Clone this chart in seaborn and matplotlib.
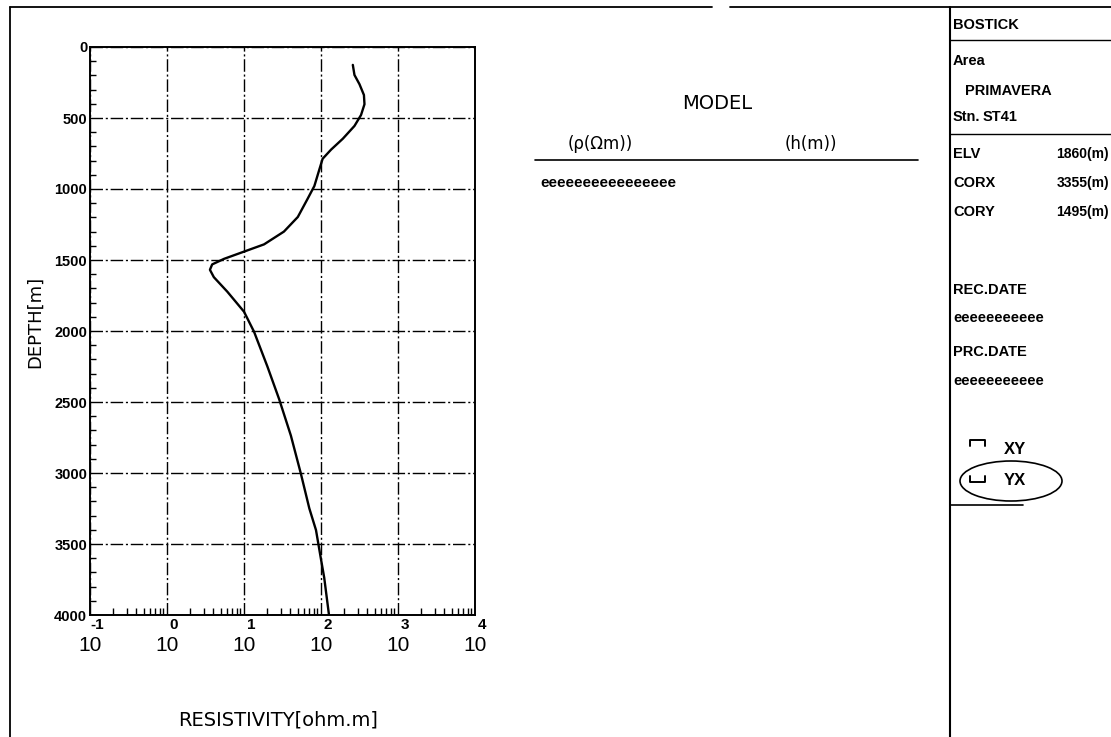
import numpy as np
import pandas as pd
import matplotlib
matplotlib.use("Agg")
import matplotlib.pyplot as plt
import seaborn as sns
from matplotlib.patches import Ellipse
from matplotlib.ticker import FixedLocator, LogLocator, NullFormatter

# ---------------- data ----------------
depth_m = [126, 197, 262, 338, 403, 479, 556, 646, 723, 787, 864, 979, 1069, 1197,
           1300, 1390, 1441, 1492, 1531, 1569, 1621, 1723, 1864, 2005, 2249, 2480,
           2736, 3005, 3249, 3402, 3608, 3736, 4000]
resistivity_ohmm = [259, 272, 316, 361, 367, 331, 272, 192, 135, 105, 95, 82, 67, 50,
                    33, 18.2, 10, 5.5, 3.86, 3.61, 4.06, 6.07, 10, 13.5, 20.1, 28.6,
                    40.6, 54.8, 70.5, 86.1, 100, 110, 127]
depth_ticks = [0, 500, 1000, 1500, 2000, 2500, 3000, 3500, 4000]
res_ticks = [0.1, 1, 10, 100, 1000, 10000]
res_tick_base = ["10", "10", "10", "10", "10", "10"]
res_tick_exp = ["-1", "0", "1", "2", "3", "4"]
info_labels = ["ELV", "CORX", "CORY"]
info_values = ["1860(m)", "3355(m)", "1495(m)"]

sns.set_theme(style="white")
plt.rcParams["font.family"] = ["DejaVu Sans"]
NARROW = ["Liberation Sans", "DejaVu Sans"]

W, H = 1111, 737
fig = plt.figure(figsize=(W / 100, H / 100), dpi=100)
fig.patch.set_facecolor("white")

# background overlay in pixel coordinates
bg = fig.add_axes([0, 0, 1, 1])
bg.set_xlim(0, W)
bg.set_ylim(H, 0)
bg.axis("off")

# main axes
x0, x1, y0, y1 = 90, 475, 47, 615
ax = fig.add_axes([x0 / W, (H - y1) / H, (x1 - x0) / W, (y1 - y0) / H])
df = pd.DataFrame({"res": resistivity_ohmm, "depth": depth_m})
sns.lineplot(data=df, x="res", y="depth", sort=False, estimator=None,
             color="black", lw=1.7, ax=ax, orient="y")
ax.set_xscale("log")
ax.set_xlim(0.1, 10000)
ax.set_ylim(4000, 0)
ax.set_xlabel("")
ax.set_ylabel("")
ax.set_xticks(res_ticks)
ax.set_xticklabels(res_tick_base, fontsize=15, family=NARROW)
ax.xaxis.set_minor_locator(LogLocator(base=10, subs=np.arange(2, 10)))
ax.xaxis.set_minor_formatter(NullFormatter())
for t, e in zip(res_ticks, res_tick_exp):
    ax.annotate(e, xy=(t, 0), xycoords=("data", "axes fraction"),
                xytext=(7, -10), textcoords="offset pixels", ha="center", va="center",
                fontsize=11, fontweight="bold", family=NARROW, color="black",
                annotation_clip=False)
ax.set_yticks(depth_ticks)
ax.set_yticklabels([str(d) for d in depth_ticks], fontsize=10.5, family=NARROW,
                   fontweight="bold")
ax.yaxis.set_minor_locator(FixedLocator(np.arange(0, 4001, 100)))
ax.tick_params(axis="x", which="major", direction="in", length=0, pad=15, colors="black")
ax.tick_params(axis="x", which="minor", direction="in", length=5, width=1, colors="black",
               bottom=True)
ax.tick_params(axis="y", which="major", direction="in", length=0, pad=2, colors="black")
ax.tick_params(axis="y", which="minor", direction="in", length=4, width=1, colors="black",
               left=True)
ax.grid(True, which="major", color="black", lw=1.0, linestyle=(0, (9, 2, 1.5, 2)))
for s in ax.spines.values():
    s.set_color("black")
    s.set_linewidth(1.4)
    s.set_visible(True)

# axis titles
bg.text(35, 322, "DEPTH[m]", rotation=90, ha="center", va="center", fontsize=13,
        color="black")
bg.text(278, 720, "RESISTIVITY[ohm.m]", ha="center", va="center", fontsize=14,
        color="black")

# outer frame
bg.plot([10, 712], [7, 7], color="black", lw=1.3)
bg.plot([730, W], [7, 7], color="black", lw=1.3)
bg.plot([10, 10], [7, H], color="black", lw=1.3)
bg.plot([950, 950], [7, H], color="black", lw=1.5)

# model block
bg.text(717, 103, "MODEL", ha="center", va="center", fontsize=14, color="black")
bg.text(568, 144, "(\u03c1(\u03a9m))", ha="left", va="center", fontsize=12, color="black")
bg.text(785, 144, "(h(m))", ha="left", va="center", fontsize=12, color="black")
bg.plot([535, 918], [160, 160], color="black", lw=1.2)
bg.text(540, 183, "eeeeeeeeeeeeeeee", ha="left", va="center", fontsize=11,
        fontweight="bold", family=NARROW, color="black")

# right info panel
bg.plot([950, W], [40, 40], color="black", lw=1.0)
bg.plot([950, W], [134, 134], color="black", lw=1.0)
kw = dict(family=NARROW, fontweight="bold", color="black", va="center")
bg.text(953, 25, "BOSTICK", fontsize=10.5, ha="left", **kw)
bg.text(953, 61, "Area", fontsize=10.5, ha="left", **kw)
bg.text(965, 91, "PRIMAVERA", fontsize=10.5, ha="left", **kw)
bg.text(953, 117, "Stn.", fontsize=10.5, ha="left", **kw)
bg.text(983, 117, "ST41", fontsize=10.5, ha="left", **kw)
for i, (lab, val) in enumerate(zip(info_labels, info_values)):
    yy = 154 + i * 29
    bg.text(953, yy, lab, fontsize=10.5, ha="left", **kw)
    bg.text(1109, yy, val, fontsize=10, ha="right", **kw)
bg.text(953, 290, "REC.DATE", fontsize=10.5, ha="left", **kw)
bg.text(953, 318, "eeeeeeeeeee", fontsize=10.5, ha="left", **kw)
bg.text(953, 352, "PRC.DATE", fontsize=10.5, ha="left", **kw)
bg.text(953, 381, "eeeeeeeeeee", fontsize=10.5, ha="left", **kw)

# legend markers
bg.plot([970, 970, 985, 985], [446, 440, 440, 446], color="black", lw=1.4)
bg.text(1004, 449, "XY", fontsize=12, ha="left", **kw)
bg.plot([970, 970, 985, 985], [476, 482, 482, 476], color="black", lw=1.4)
bg.text(1004, 480, "YX", fontsize=12, ha="left", **kw)
bg.add_patch(Ellipse((1011, 481), 102, 40, fill=False, edgecolor="black", lw=1.2))
bg.plot([950, 1023], [505, 505], color="black", lw=1.2)

fig.savefig("out.png", dpi=100, facecolor="white")
